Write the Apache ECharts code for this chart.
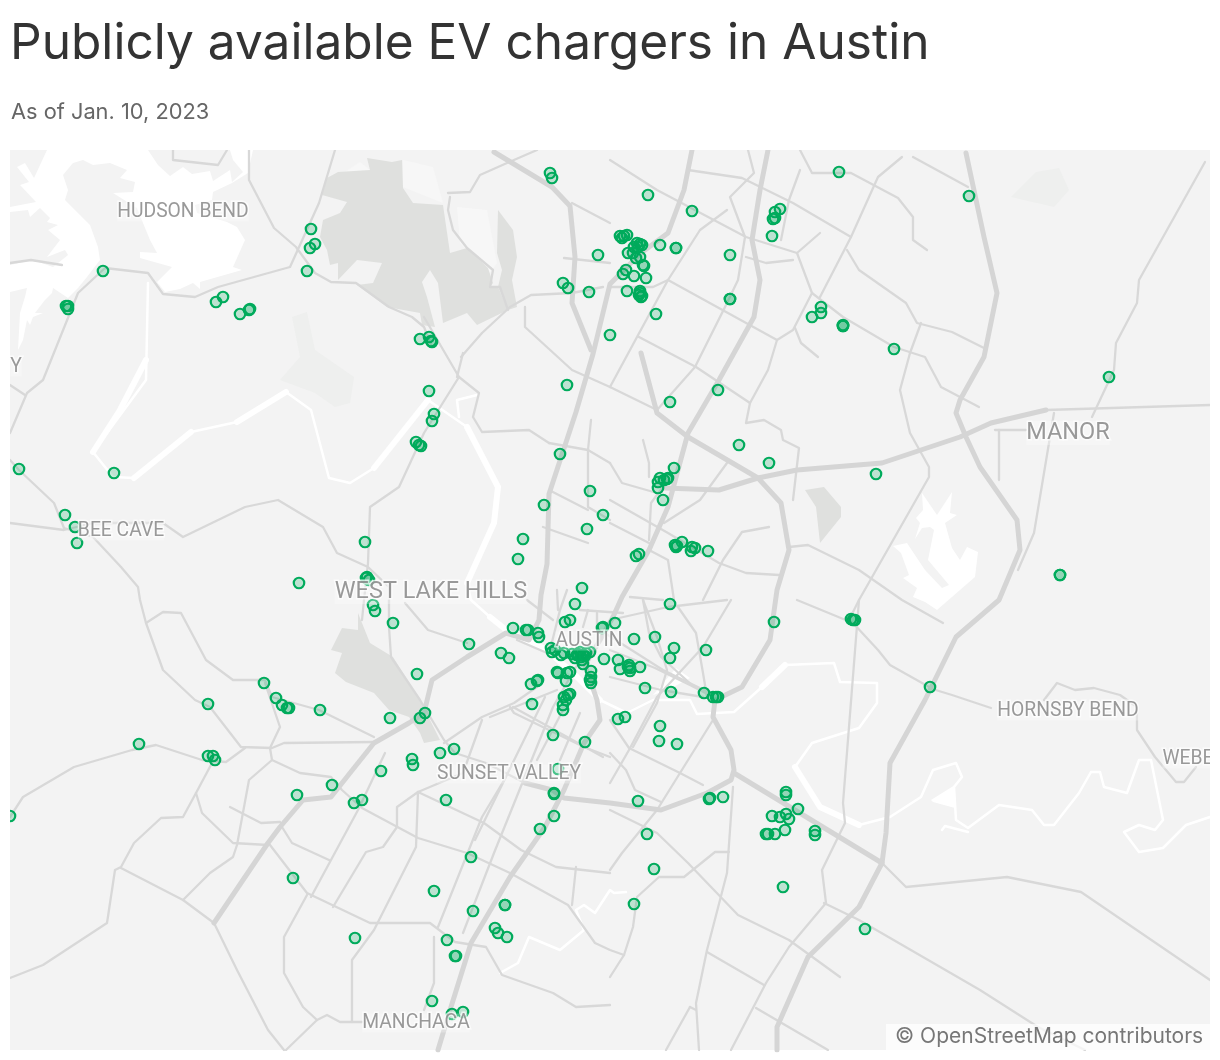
<!DOCTYPE html>
<html><head><meta charset="utf-8">
<style>html,body{margin:0;padding:0;background:#fff}#c{width:1220px;height:1060px}</style>
<script src="https://cdn.jsdelivr.net/npm/echarts@6/dist/echarts.min.js"></script>
</head><body><div id="c"></div>
<script>
const chargers = [
[550,173],[552,178],[648,195],[692,211],[839,172],[969,196],[780,209],[775,212],[773,219],[775,218],[772,236],
[620,236],[624,236],[627,235],[622,238],[637,243],[640,244],[642,245],[634,247],[638,247],[660,245],[676,248],[676,248],[598,255],
[628,253],[633,253],[636,258],[640,257],[644,266],[643,265],[626,270],[623,274],[634,276],[646,278],[627,291],[640,293],[641,297],[639,295],[642,296],[640,291],
[656,314],[730,255],[730,299],[730,299],[589,292],[563,283],[568,288],[821,307],[821,313],[812,317],[843,326],[843,326],[843,325],[894,349],[610,335],[567,385],[718,390],[670,402],[739,445],[769,463],[876,474],[1109,377],
[674,468],[660,478],[667,479],[664,480],[658,482],[658,488],[663,500],[668,478],[560,454],[590,491],[544,505],[603,515],[587,529],[523,539],[518,559],
[675,545],[677,546],[676,547],[682,542],[692,547],[695,548],[691,551],[708,551],[639,554],[636,556],[1060,575],[1060,575],[853,620],[855,620],[851,619],[774,622],[930,687],
[582,588],[575,604],[670,604],[565,622],[570,620],[603,627],[602,628],[615,623],[513,628],[526,630],[528,630],[538,633],[539,637],[634,639],[655,637],[674,648],[670,658],[706,650],[469,644],[501,653],[509,658],
[551,648],[552,652],[555,650],[564,653],[572,654],[577,655],[580,652],[583,655],[586,653],[590,652],[582,660],[583,664],[575,658],[561,655],[578,654],[581,657],[585,656],[604,659],[618,660],[620,669],[628,667],[630,671],[630,668],[629,665],[640,667],
[557,672],[558,673],[567,673],[570,672],[566,681],[591,671],[591,677],[591,683],[590,680],[538,680],[531,684],[537,681],[532,704],[568,695],[564,697],[570,694],[566,700],[563,705],[563,710],[645,688],[671,692],[704,693],[713,697],[716,697],[718,697],
[553,735],[585,742],[618,719],[625,717],[660,726],[659,741],[677,744],[390,718],[420,718],[425,713],[417,674],
[365,542],[367,577],[369,580],[366,578],[373,605],[375,611],[393,623],[299,583],
[19,469],[114,473],[65,515],[75,527],[77,543],[103,271],[68,306],[66,306],[68,309],[216,302],[223,297],[240,314],[249,310],[250,309],[307,271],[310,248],[315,244],[311,229],[420,339],[429,337],[431,341],[432,342],[429,391],[434,414],[432,421],[416,442],[419,445],[421,446],
[264,683],[276,698],[282,705],[287,708],[289,708],[320,710],[208,704],[139,744],[208,756],[213,756],[215,760],[10,816],[297,795],[332,785],[354,803],[362,800],[381,771],[412,759],[413,765],[440,753],[454,749],[446,800],[554,793],[554,794],[638,801],[554,816],[540,829],[558,769],[647,834],[654,869],[634,904],
[471,857],[434,891],[293,878],[355,938],[473,911],[505,905],[505,905],[495,928],[498,933],[507,937],[447,940],[456,956],[455,956],[432,1001],[463,1012],[452,1014],
[709,799],[710,798],[723,797],[786,792],[786,795],[798,809],[772,816],[780,817],[786,814],[789,819],[785,830],[775,834],[768,834],[766,834],[815,831],[815,835],[783,887],[865,929]
];

const highways = [
[[692,150],[684,190],[668,233],[641,253],[610,284],[593,354],[576,412],[549,494],[547,564],[541,595],[539,620],[529,640],[506,633],[467,657],[432,680],[424,713],[409,723],[374,743],[350,773],[331,797],[303,800],[280,827],[268,843],[245,877],[214,923]],
[[768,150],[760,190],[752,240],[760,280],[754,317],[719,380],[688,433],[668,507],[649,550],[622,597],[613,617],[600,640],[585,665],[597,700],[600,720],[584,743],[564,790],[545,827],[510,877],[471,943],[451,1007],[438,1050]],
[[664,488],[719,490],[758,478],[797,470],[882,463],[960,437],[991,423],[1046,410]],
[[688,437],[758,478],[781,503],[789,550],[777,590],[770,640],[742,687],[715,700],[713,717],[731,750],[734,770],[731,780],[707,793],[661,810],[610,803],[564,798],[552,790],[525,783]],
[[966,153],[984,237],[997,293],[984,357],[960,400],[956,413],[966,437],[980,467],[1017,520],[1020,550],[999,600],[956,637],[925,700],[890,763],[886,833],[882,863],[859,907],[808,957],[777,1027],[777,1050]],
[[734,773],[882,863]],
[[641,353],[657,413],[688,437]],
[[494,152],[552,187],[570,206],[575,257],[572,303],[591,350]]
];

const arterials = [
[[610,160],[657,190],[746,237],[797,253],[812,293],[843,317],[894,347],[925,357],[941,387],[979,407]],
[[902,157],[878,177],[851,237],[820,297]],
[[688,170],[742,178],[793,203],[851,237]],
[[847,250],[859,270],[906,303],[917,323],[952,332],[984,348]],
[[800,150],[812,173],[851,173],[898,198],[913,217],[913,240],[927,250]],
[[913,157],[968,187]],[[800,170],[789,200],[781,240]],
[[748,150],[754,173],[730,197],[745,237],[738,280],[727,303],[695,367],[657,410]],
[[820,233],[797,253]],[[746,257],[766,263],[793,260]],
[[610,287],[653,287],[668,280],[777,340]],
[[727,210],[700,230],[668,280],[637,337],[610,387]],
[[639,337],[696,367],[750,403]],[[610,387],[657,410]],
[[910,353],[900,390],[910,433],[929,467],[929,477],[859,600],[843,803],[845,823],[822,870],[826,903],[789,947],[766,983],[731,1050]],
[[999,430],[999,480]],[[1026,430],[995,430]],[[1054,413],[1034,533],[1018,570]],
[[1205,162],[1139,280],[1137,303],[1116,343],[1114,370],[1092,417]],[[921,323],[910,353]],
[[795,328],[801,343],[818,357]],
[[812,293],[793,330],[777,340],[768,370],[750,403],[746,423],[764,420],[781,430],[783,440],[799,448],[793,500]],
[[789,547],[808,545],[859,570],[902,600],[943,623]],[[649,550],[668,560],[674,600]],
[[610,500],[668,533],[719,563],[746,573],[779,575]],[[610,523],[649,543]],
[[664,523],[700,500],[727,463]],[[649,540],[651,503],[668,480]],
[[769,527],[742,532],[723,560],[703,600]],[[610,463],[622,483],[657,493]],[[643,440],[649,463],[649,477]],
[[549,443],[588,450],[610,463]],[[588,450],[588,507],[610,520]],[[549,490],[588,510]],[[543,527],[588,543]],[[591,420],[588,450]],
[[525,307],[525,327],[572,370],[610,387]],[[461,357],[482,333],[510,307],[531,295],[572,293],[603,287]],[[564,258],[610,263]],[[572,203],[610,223]],
[[457,377],[463,353]],
[[450,197],[448,210],[453,230],[467,248],[493,270],[490,287],[500,287],[508,310]],[[448,193],[470,192],[480,175],[507,163],[537,150]],[[173,150],[173,160],[218,165],[227,150]],
[[424,317],[459,377],[479,393],[473,417],[482,432],[529,430],[549,443]],
[[459,377],[424,433],[399,487],[370,507],[368,563],[364,600],[362,620]],
[[335,150],[319,203],[290,267],[218,287],[195,297],[163,294],[148,273],[105,268],[78,293],[43,380],[27,393],[10,433]],
[[249,150],[249,180],[274,228],[296,247],[315,273],[331,282],[356,283],[389,307],[412,317],[424,327],[432,347]],
[[10,385],[25,395]],[[10,263],[31,260],[62,265]],
[[10,460],[19,470],[54,503],[64,528],[93,537],[121,567],[138,587],[140,600],[146,623],[163,670],[195,700],[210,707],[241,747],[272,748],[284,743],[374,742]],
[[10,523],[64,530],[93,523],[163,523],[183,537],[245,507],[278,500],[323,527],[337,553],[368,567],[389,587],[389,627],[391,657],[420,700],[444,740],[455,753],[486,763],[525,783]],
[[405,603],[428,630],[467,643]],
[[146,623],[163,612],[181,613],[206,660],[233,680],[265,680],[272,697],[319,710],[374,737]],
[[265,683],[280,727],[270,748],[272,760],[249,780],[237,845],[233,857],[210,873],[183,900]],
[[272,760],[300,773],[331,777],[342,790],[362,808],[418,838],[467,853],[510,873],[568,905],[595,943],[610,950],[624,955]],
[[10,817],[23,797],[74,767],[132,750],[156,745],[202,760],[226,762],[245,748]],
[[212,763],[196,793],[183,817],[161,818],[134,843],[121,867],[115,870],[107,923],[43,965],[10,978]],
[[196,793],[202,813],[233,843],[268,845]],[[230,807],[261,823],[280,822]],[[282,827],[292,843],[329,860]],
[[270,845],[307,893],[370,923],[430,923],[455,942],[486,947],[502,975],[553,993],[576,1007],[610,1005]],
[[121,868],[183,900],[214,923],[237,970],[268,1030],[284,1050]],
[[307,895],[284,937],[284,973],[303,1007],[317,1020],[286,1050]],[[317,1020],[327,1015],[340,1022],[362,1022]],
[[352,1022],[352,960],[374,930],[416,847],[418,792],[397,807],[397,827],[383,847],[366,852],[333,907]],
[[418,792],[484,823],[521,850],[556,867],[610,873]],[[311,897],[358,810],[385,753]],
[[434,937],[434,983],[424,1010]],[[438,927],[482,817],[506,777]],[[482,720],[463,773],[418,792]],
[[444,743],[482,717],[514,703],[537,687]],[[510,707],[514,713],[584,747],[610,757]],
[[463,933],[494,853],[553,707],[580,660]],[[475,840],[545,697]],[[572,905],[576,867]],
[[610,620],[668,607],[727,600]],[[643,600],[649,633],[661,657],[694,687]],[[678,607],[696,633],[703,673],[707,697]],
[[610,650],[655,668],[694,687],[713,697]],[[731,600],[703,647],[657,697],[629,750],[610,783]],[[610,677],[661,690],[703,697]],
[[713,720],[680,773],[657,810],[622,853],[610,870]],[[610,720],[629,748],[680,773],[703,785]],[[610,753],[626,770],[635,790],[661,802]],
[[610,810],[657,833],[688,863],[738,915],[789,940],[840,977]],
[[729,852],[715,852],[684,877],[659,877],[637,897],[633,927],[624,955],[610,977]],
[[733,787],[727,873],[707,950],[696,1003],[699,1050]],[[707,952],[764,985]],
[[824,903],[859,920],[980,990],[1038,1027],[1085,1050]],[[756,1008],[828,1050]],[[690,1007],[666,1050]],[[690,1007],[696,1010]],
[[929,688],[952,695],[991,708]],[[797,600],[853,623],[878,650],[890,665],[931,688]],[[859,600],[849,620]],
[[882,863],[906,887],[1007,877],[1081,892],[1210,980]],[[1046,410],[1210,405]],
[[1044,700],[1057,683],[1075,690],[1094,688],[1120,695],[1137,707],[1137,730],[1155,757],[1176,782],[1184,782],[1196,767]],
[[557,590],[558,610]],[[580,610],[623,613]],[[588,610],[583,627]],[[597,613],[597,630]],[[630,597],[663,600]],
[[643,600],[657,637],[667,670],[657,703],[633,747]],[[490,717],[557,690]],[[513,707],[560,733],[603,757]],[[563,710],[537,760]],[[580,713],[560,760]],
[[600,630],[663,670],[710,693]],[[550,650],[560,610],[567,590]],[[527,600],[553,620]],[[517,640],[547,653]]
];

const riverThin = [
[[148,283],[146,380],[93,452],[113,477],[134,478],[191,432],[237,422],[286,392],[311,410],[329,478],[350,483],[374,468],[428,400],[467,427],[498,487],[494,523],[467,583],[471,600],[490,617],[510,633],[547,650],[577,677],[600,700],[627,713],[653,700],[690,700],[697,714],[734,712],[762,687],[785,665],[834,663],[840,682],[877,683],[877,703],[859,728],[812,743],[795,767],[820,807],[859,825],[890,817],[921,797],[933,770],[956,763],[962,777],[954,787],[956,820],[968,828],[999,805],[1032,810],[1044,825],[1054,825],[1079,793],[1091,772],[1100,772],[1104,787],[1127,793],[1139,760],[1151,760],[1163,820],[1155,830],[1139,825],[1124,832],[1139,852],[1163,848],[1186,825],[1210,817]],
[[500,973],[518,963],[529,937],[560,950],[584,930],[576,910],[584,905],[595,913],[610,890],[614,893],[626,892]],
[[459,417],[457,400],[477,395]],[[942,830],[945,826],[968,832]]
];
const riverWide = [
[[146,360],[120,410],[93,452]],[[134,478],[191,432]],[[237,422],[286,392]],[[374,468],[428,400]],[[467,427],[498,487],[494,523],[467,583]],[[490,617],[510,633],[547,650],[577,677],[600,700]],[[762,687],[785,665]],[[795,767],[820,807],[859,825]]
];

const waterAreas = [
[[47,150],[148,150],[158,165],[170,176],[183,167],[192,174],[210,171],[213,181],[230,170],[232,182],[243,172],[233,160],[230,150],[253,150],[248,173],[232,183],[213,192],[212,200],[195,205],[197,213],[227,222],[237,227],[245,240],[233,267],[242,270],[200,282],[200,289],[193,283],[180,289],[165,292],[157,282],[172,267],[140,258],[140,252],[157,253],[150,240],[143,223],[137,208],[113,193],[133,192],[135,182],[120,178],[127,170],[110,163],[93,165],[83,160],[73,163],[63,175],[68,190],[65,200],[80,215],[90,225],[98,247],[100,260],[87,277],[78,288],[68,298],[53,288],[52,293],[45,300],[35,313],[43,313],[33,317],[30,325],[27,320],[23,340],[18,350],[20,313],[25,297],[27,288],[10,292],[10,265],[33,260],[53,267],[68,255],[65,250],[47,257],[60,240],[48,230],[58,225],[47,222],[50,218],[40,208],[30,217],[28,210],[10,212],[10,207],[36,202],[20,185],[29,182],[17,167],[25,163],[34,178]],
[[653,695],[676,668],[690,678],[668,690]],
[[922,493],[937,515],[952,492],[950,513],[957,515],[945,523],[952,548],[960,560],[967,547],[978,552],[975,577],[937,610],[925,602],[913,597],[917,588],[903,578],[909,575],[901,553],[893,546],[907,543],[925,570],[942,588],[949,585],[928,560],[934,530],[930,527],[922,528],[915,539],[920,523],[916,518],[923,510]],
[[931,800],[955,785],[955,808],[933,802]]
];
const parkAreas = [
[[327,178],[338,172],[370,170],[367,158],[392,162],[402,160],[403,188],[413,203],[443,205],[450,253],[467,248],[488,268],[493,283],[490,287],[498,287],[508,310],[477,325],[467,313],[443,323],[438,283],[430,270],[422,282],[427,297],[435,327],[422,325],[420,313],[387,307],[357,285],[373,283],[382,263],[357,260],[338,280],[338,263],[330,265],[327,250],[320,237],[323,220],[340,213],[347,202],[322,195]],
[[498,210],[513,230],[517,257],[512,280],[517,307],[508,310],[498,287],[502,270],[497,253]],
[[358,613],[370,643],[393,657],[420,700],[440,740],[424,743],[420,733],[409,717],[389,710],[374,693],[346,682],[335,673],[342,653],[331,650],[342,628],[358,630]],
[[805,490],[824,487],[841,507],[841,517],[820,543],[816,507]]
];
const lightAreas = [
[[292,317],[307,312],[315,350],[354,377],[350,403],[335,407],[315,393],[280,380],[300,357]],
[[1011,197],[1036,172],[1059,168],[1069,190],[1054,207]]
];
const paleAreas = [
[[457,207],[487,210],[497,263],[490,273],[460,243]],
[[403,187],[443,203],[433,167],[403,160]],
[[345,172],[360,162],[370,170]]
];

const bigPlaces = [[431,592,"WEST LAKE HILLS"],[1068,433,"MANOR"]];
const smallPlaces = [[183,212,"HUDSON BEND"],[121,531,"BEE CAVE"],[589,641,"AUSTIN"],[509,774,"SUNSET VALLEY"],[1068,711,"HORNSBY BEND"],[1188,759,"WEBE"],[416,1023,"MANCHACA"],[905,147,"PFLUGERVILLE"],[16,367,"Y"]];

const titleText = "Publicly available EV chargers in Austin";
const subtitleText = "As of Jan. 10, 2023";
const creditText = "© OpenStreetMap contributors";

const polySeries = (polys, color) => ({
  type:'custom', coordinateSystem:'cartesian2d', silent:true, clip:true, z:1,
  data: polys.map((p,i)=>[i]),
  renderItem:(params,api)=>({type:'polygon',shape:{points:polys[params.dataIndex].map(p=>api.coord(p))},style:{fill:color}})
});
const roadSeries = (roads,color,width,z) => ({
  type:'lines', coordinateSystem:'cartesian2d', polyline:true, silent:true, z,
  lineStyle:{color,width,opacity:1,cap:'round',join:'round'},
  data: roads.map(r=>({coords:r}))
});
const placeSeries = (rows,size) => ({
  type:'scatter', silent:true, z:9, symbolSize:0, data:rows,
  label:{show:true,position:'inside',formatter:p=>p.value[2],fontFamily:'Roboto',fontSize:size,color:'#808080',
    textBorderColor:'rgba(255,255,255,0.85)',textBorderWidth:3,backgroundColor:'rgba(255,255,255,0.35)'}
});

const chart = echarts.init(document.getElementById('c'),null,{renderer:'canvas'});
chart.setOption({
  animation:false,
  backgroundColor:'#fff',
  title:[
    {text:titleText,left:10,top:18,padding:0,z:60,textStyle:{fontFamily:'Inter',fontWeight:400,fontSize:49.6,lineHeight:52,color:'#333'}},
    {text:subtitleText,left:11,top:100,padding:0,z:60,textStyle:{fontFamily:'Inter',fontWeight:400,fontSize:21.8,lineHeight:24,color:'#666'}}
  ],
  grid:{left:10,top:150,width:1200,height:900,show:true,backgroundColor:'#f3f3f3',borderWidth:0},
  xAxis:{type:'value',min:10,max:1210,show:false},
  yAxis:{type:'value',min:150,max:1050,inverse:true,show:false},
  series:[
    polySeries(lightAreas,'#eeefee'),
    polySeries(paleAreas,'#f7f7f7'),
    polySeries(parkAreas,'#dfe0de'),
    polySeries(waterAreas,'#ffffff'),
    roadSeries(riverThin,'#ffffff',2.5,2),
    roadSeries(riverWide,'#ffffff',6,2),
    roadSeries(arterials,'#d8d8d8',2.3,3),
    roadSeries(highways,'#d5d5d5',5,4),
    {type:'scatter',z:8,symbol:'circle',symbolSize:10.5,data:chargers,
      itemStyle:{color:'rgba(0,168,90,0.22)',borderColor:'#00ab5c',borderWidth:2.2,opacity:1}},
    placeSeries(bigPlaces,23.5),
    placeSeries(smallPlaces,19.3)
  ],
  graphic:[
    {type:'rect',z:50,shape:{x:0,y:0,width:1220,height:150},style:{fill:'#fff'}},
    {type:'rect',z:50,shape:{x:0,y:150,width:10,height:910},style:{fill:'#fff'}},
    {type:'rect',z:50,shape:{x:1210,y:150,width:10,height:910},style:{fill:'#fff'}},
    {type:'rect',z:51,shape:{x:886,y:1024,width:324,height:26},style:{fill:'rgba(255,255,255,0.7)'}},
    {type:'text',z:52,x:895,y:1026,style:{text:creditText,fontFamily:'Inter',fontSize:21,fill:'#777'}}
  ]
});
</script></body></html>
